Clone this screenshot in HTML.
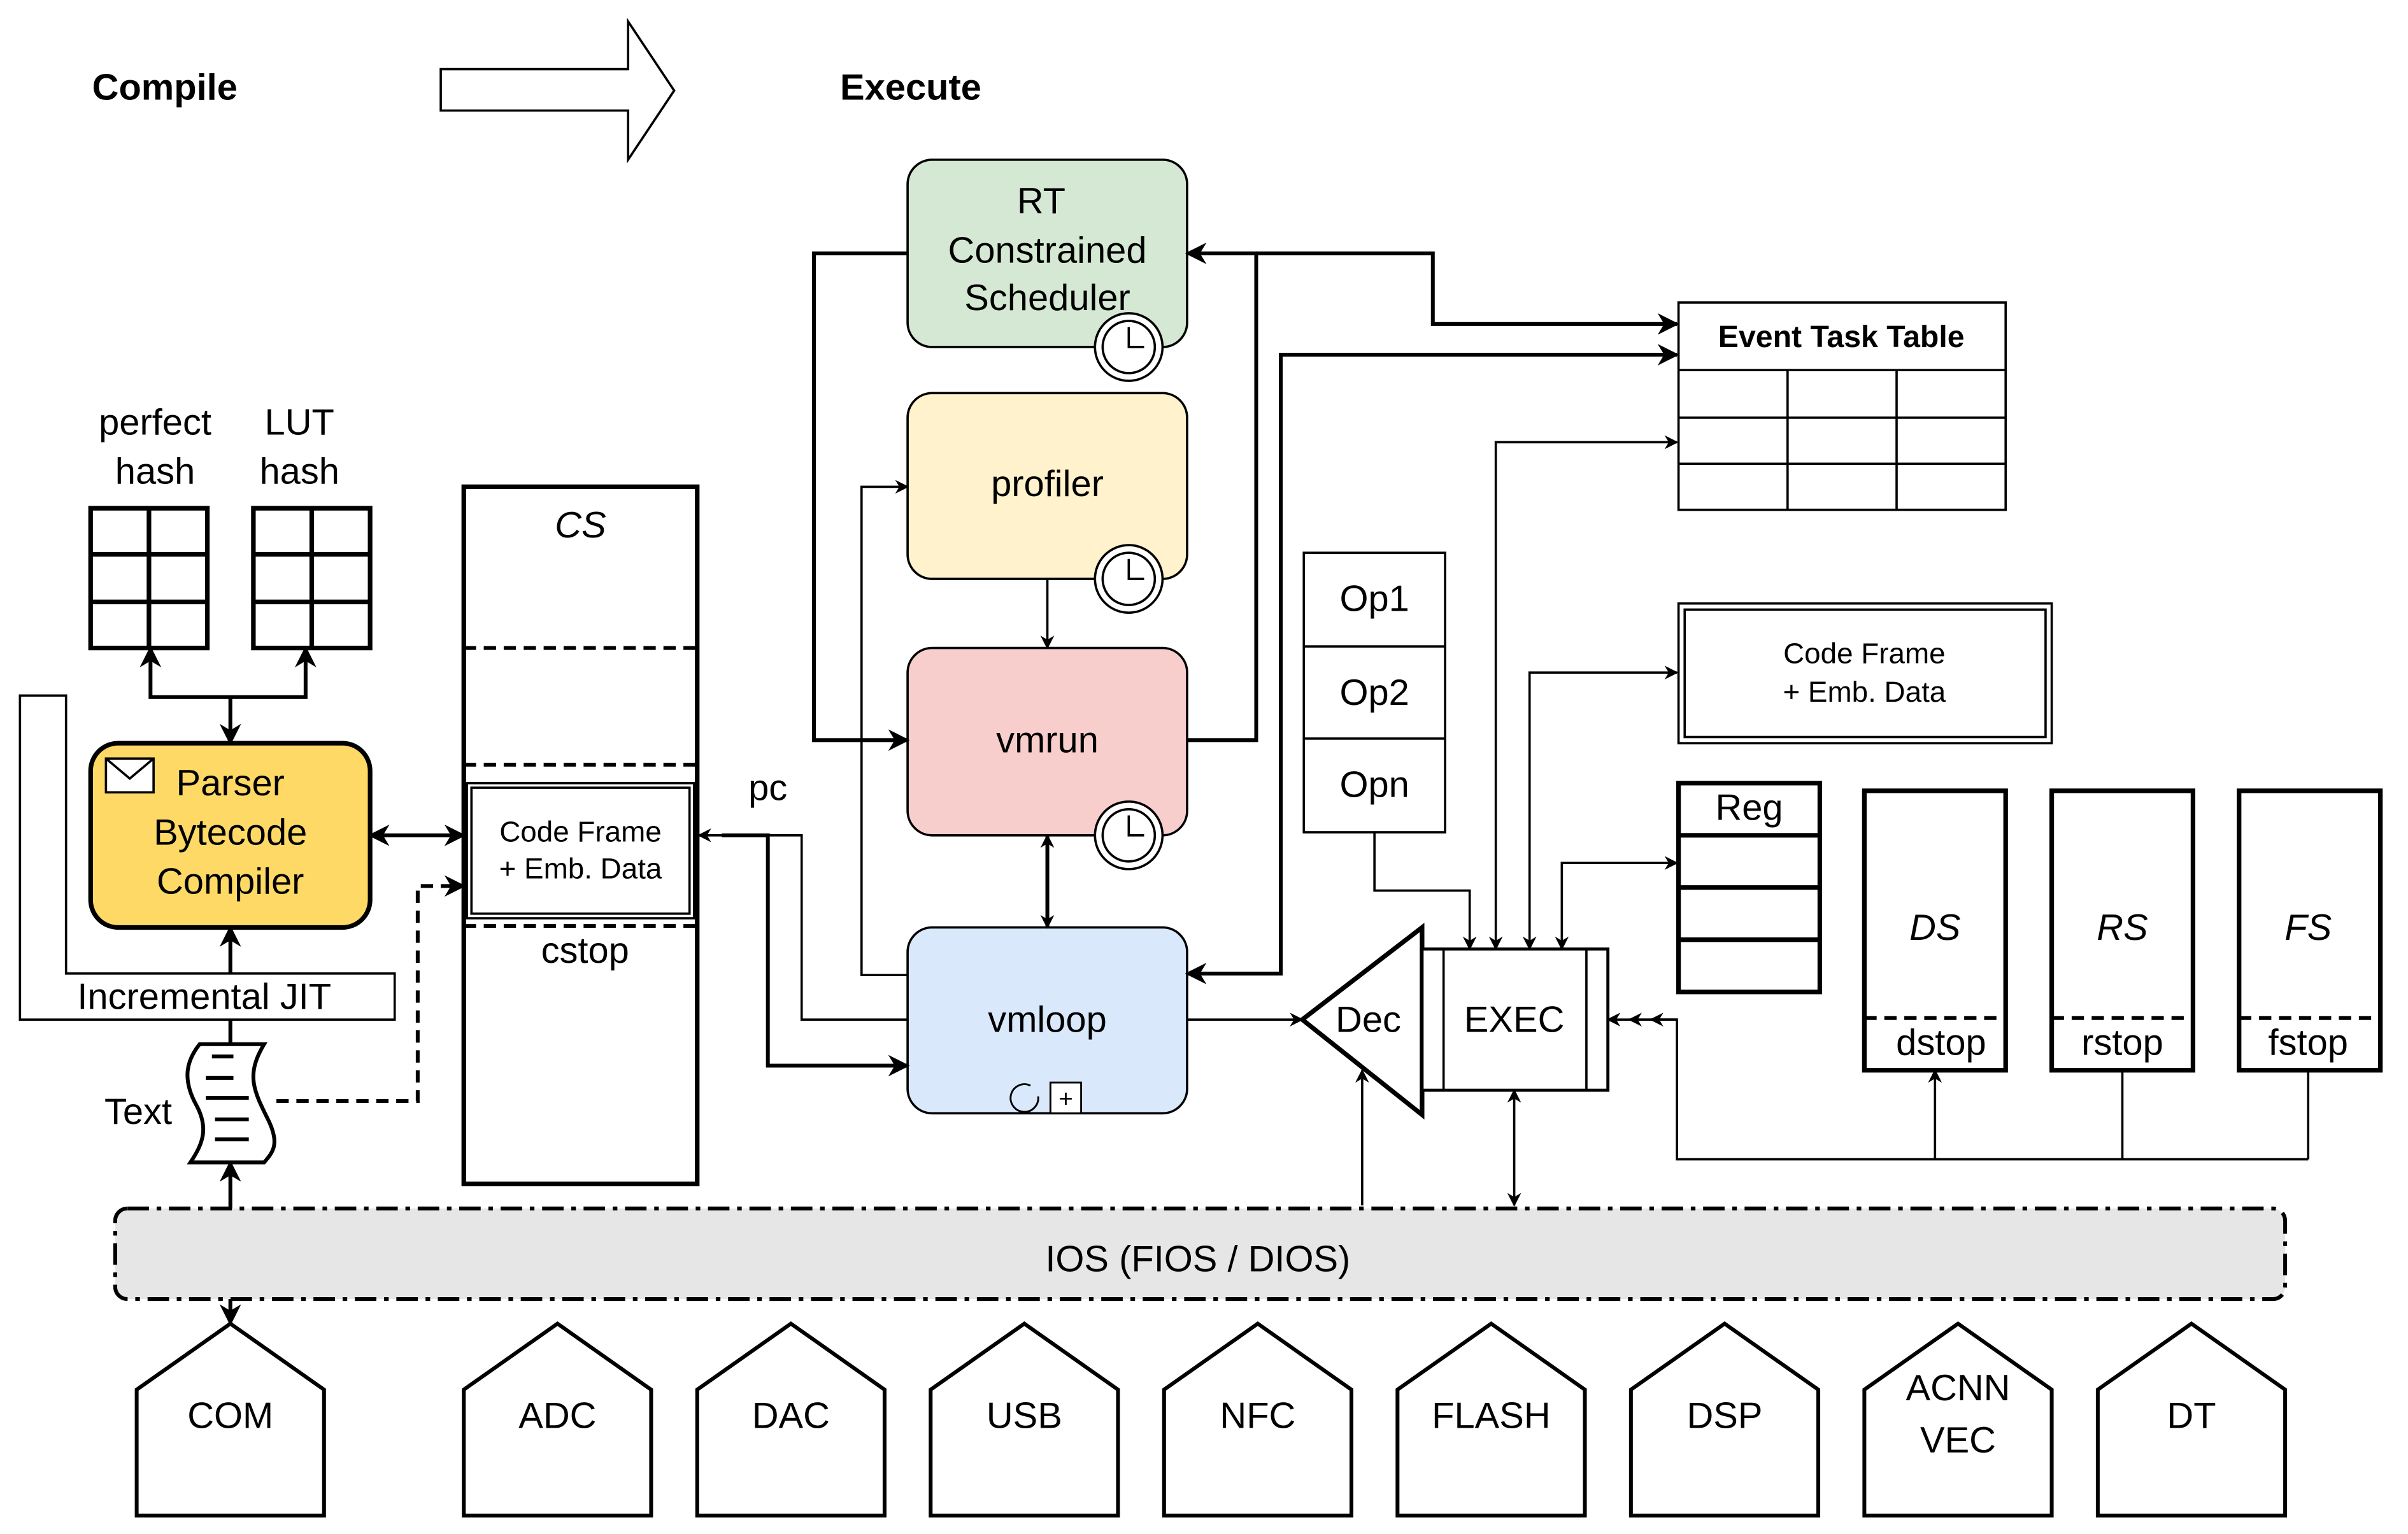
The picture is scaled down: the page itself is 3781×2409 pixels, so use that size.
<!DOCTYPE html>
<html><head><meta charset="utf-8"><style>html,body{margin:0;padding:0;background:#fff}svg{display:block}text{font-family:"Liberation Sans",sans-serif}</style></head><body>
<svg width="3781" height="2409" viewBox="0 0 1568 999" preserveAspectRatio="none" xmlns="http://www.w3.org/2000/svg">
<defs>
<marker id="a" viewBox="0 0 10 10" refX="9" refY="5" markerWidth="9" markerHeight="9" orient="auto-start-reverse" markerUnits="userSpaceOnUse"><path d="M0,0 L10,5 L0,10 L3,5 Z" fill="#000"/></marker>
<marker id="b" viewBox="0 0 10 10" refX="9" refY="5" markerWidth="14" markerHeight="14" orient="auto-start-reverse" markerUnits="userSpaceOnUse"><path d="M0,0 L10,5 L0,10 L3,5 Z" fill="#000"/></marker>
<g id="clk"><circle r="22" fill="#fff" stroke="#000" stroke-width="1.5"/><circle r="17" fill="#fff" stroke="#000" stroke-width="1.5"/><path d="M0,-13 V0 H10" fill="none" stroke="#000" stroke-width="1.5"/></g>
</defs>
<g fill="#000" font-size="24">
<text x="60" y="65" font-weight="bold">Compile</text>
<text x="547" y="65" font-weight="bold">Execute</text>
</g>
<path d="M287,45 H409 V14 L439,59 L409,104 V72 H287 Z" fill="#fff" stroke="#000" stroke-width="1.5"/>

<rect x="591" y="104" width="182" height="122" rx="16" fill="#d5e8d4" stroke="#000" stroke-width="1.5"/>
<rect x="591" y="256" width="182" height="121" rx="16" fill="#fff2cc" stroke="#000" stroke-width="1.5"/>
<rect x="591" y="422" width="182" height="122" rx="16" fill="#f8cecc" stroke="#000" stroke-width="1.5"/>
<rect x="591" y="604" width="182" height="121" rx="16" fill="#dae8fc" stroke="#000" stroke-width="1.5"/>
<g font-size="24" text-anchor="middle" fill="#000">
<text x="678" y="139">RT</text><text x="682" y="171">Constrained</text><text x="682" y="202">Scheduler</text>
<text x="682" y="323">profiler</text><text x="682" y="490">vmrun</text><text x="682" y="672">vmloop</text>
</g>
<use href="#clk" x="735" y="226"/><use href="#clk" x="735" y="377"/><use href="#clk" x="735" y="544"/>
<path d="M676,714 a9,9 0 1 1 -5,-7" fill="none" stroke="#000" stroke-width="1.2"/>
<rect x="684" y="705" width="20" height="20" fill="#fff" stroke="#000" stroke-width="1.2"/>
<text x="694" y="721" font-size="16" text-anchor="middle">+</text>

<g fill="none" stroke="#000">
<path d="M682,377 V422" stroke-width="1.5" marker-end="url(#a)"/>
<path d="M682,544 V604" stroke-width="2.5" marker-start="url(#a)" marker-end="url(#a)"/>
<path d="M591,165 H530 V482 H591" stroke-width="2.5" marker-end="url(#b)"/>
<path d="M591,635 H561 V317 H591" stroke-width="1.5" marker-end="url(#a)"/>
<path d="M773,482 H818 V165 H773" stroke-width="2.5" marker-end="url(#b)"/>
<path d="M818,165 H933 V211 H1092" stroke-width="2.5" marker-end="url(#b)"/>
<path d="M773,634 H834 V231 H1092" stroke-width="2.5" marker-start="url(#b)" marker-end="url(#b)"/>
<path d="M773,664 H848" stroke-width="1.5" marker-end="url(#a)"/>
<path d="M591,664 H522 V544 H455" stroke-width="1.5" marker-end="url(#a)"/>
<path d="M470,544 H500 V694 H591" stroke-width="2.5" marker-end="url(#b)"/>
<path d="M895,542 V580 H957 V618" stroke-width="1.5" marker-end="url(#a)"/>
<path d="M1092,288 H974 V618" stroke-width="1.5" marker-start="url(#a)" marker-end="url(#a)"/>
<path d="M1092,438 H996 V618" stroke-width="1.5" marker-start="url(#a)" marker-end="url(#a)"/>
<path d="M1092,562 H1017 V618" stroke-width="1.5" marker-start="url(#a)" marker-end="url(#a)"/>
<path d="M887,785 V697" stroke-width="1.5" marker-end="url(#a)"/>
<path d="M986,785 V710" stroke-width="1.5" marker-start="url(#a)" marker-end="url(#a)"/>
<path d="M1260,697 V755 M1382,697 V755 M1503,697 V755" stroke-width="1.5" marker-start="url(#a)"/>
<path d="M1503,755 H1092 V664 H1047" stroke-width="1.5" marker-end="url(#a)"/>
<path d="M1092,664 H1061" stroke-width="1.5" marker-end="url(#a)"/>
<path d="M1092,664 H1075" stroke-width="1.5" marker-end="url(#a)"/>
</g>
<text x="500" y="521" font-size="24" text-anchor="middle">pc</text>

<g fill="none" stroke="#000" stroke-width="1.5">
<rect x="1093" y="197" width="213" height="135" fill="#fff"/>
<path d="M1093,241 H1306 M1093,272 H1306 M1093,302 H1306 M1164,241 V332 M1235,241 V332"/>
</g>
<text x="1199" y="226" font-size="20" font-weight="bold" text-anchor="middle">Event Task Table</text>

<g fill="#fff" stroke="#000" stroke-width="1.5">
<rect x="849" y="360" width="92" height="61"/><rect x="849" y="421" width="92" height="60"/><rect x="849" y="481" width="92" height="61"/>
</g>
<g font-size="24" text-anchor="middle"><text x="895" y="398">Op1</text><text x="895" y="459">Op2</text><text x="895" y="519">Opn</text></g>

<rect x="1093" y="393" width="243" height="91" fill="#fff" stroke="#000" stroke-width="1.5"/>
<rect x="1097" y="397" width="235" height="83" fill="none" stroke="#000" stroke-width="1.5"/>
<g font-size="19" text-anchor="middle"><text x="1214" y="432">Code Frame</text><text x="1214" y="457">+ Emb. Data</text></g>

<path d="M848,664 L926,604 V726 Z" fill="#fff" stroke="#000" stroke-width="3"/>
<rect x="926" y="618" width="121" height="92" fill="#fff" stroke="#000" stroke-width="2"/>
<path d="M940,618 V710 M1033,618 V710" stroke="#000" stroke-width="1.5"/>
<text x="891" y="672" font-size="24" text-anchor="middle">Dec</text>
<text x="986" y="672" font-size="24" text-anchor="middle">EXEC</text>

<rect x="1093" y="510" width="92" height="136" fill="#fff" stroke="#000" stroke-width="3"/>
<path d="M1093,544 H1185 M1093,578 H1185 M1093,612 H1185" stroke="#000" stroke-width="3"/>
<text x="1139" y="534" font-size="24" text-anchor="middle">Reg</text>

<g fill="#fff" stroke="#000" stroke-width="3">
<rect x="1214" y="515" width="92" height="182"/><rect x="1336" y="515" width="92" height="182"/><rect x="1458" y="515" width="92" height="182"/>
</g>
<path d="M1214,663 H1306 M1336,663 H1428 M1458,663 H1550" stroke="#000" stroke-width="2.5" stroke-dasharray="8,5"/>
<g font-size="24" text-anchor="middle">
<text x="1260" y="612" font-style="italic">DS</text><text x="1382" y="612" font-style="italic">RS</text><text x="1503" y="612" font-style="italic">FS</text>
<text x="1264" y="687">dstop</text><text x="1382" y="687">rstop</text><text x="1503" y="687">fstop</text>
</g>

<rect x="302" y="317" width="152" height="454" fill="#fff" stroke="#000" stroke-width="3"/>
<path d="M302,422 H454 M302,498 H454 M302,603 H454" stroke="#000" stroke-width="2.5" stroke-dasharray="8,5"/>
<rect x="304" y="510" width="148" height="88" fill="#fff" stroke="#000" stroke-width="1.5"/>
<rect x="307" y="513" width="142" height="82" fill="none" stroke="#000" stroke-width="1.5"/>
<g font-size="19" text-anchor="middle"><text x="378" y="548">Code Frame</text><text x="378" y="572">+ Emb. Data</text></g>
<text x="378" y="350" font-size="24" font-style="italic" text-anchor="middle">CS</text>
<text x="381" y="627" font-size="24" text-anchor="middle">cstop</text>

<g fill="none" stroke="#000" stroke-width="3">
<rect x="59" y="331" width="76" height="91"/><path d="M59,361 H135 M59,392 H135 M97,331 V422"/>
<rect x="165" y="331" width="76" height="91"/><path d="M165,361 H241 M165,392 H241 M203,331 V422"/>
</g>
<g font-size="24" text-anchor="middle"><text x="101" y="283">perfect</text><text x="101" y="315">hash</text><text x="195" y="283">LUT</text><text x="195" y="315">hash</text></g>

<path d="M13,453 H43 V634 H257 V664 H13 Z" fill="#fff" stroke="#000" stroke-width="1.5"/>
<text x="133" y="657" font-size="24" text-anchor="middle">Incremental JIT</text>

<rect x="59" y="484" width="182" height="120" rx="18" fill="#ffd966" stroke="#000" stroke-width="3"/>
<rect x="69" y="494" width="31" height="22" fill="#fff" stroke="#000" stroke-width="1.5"/>
<path d="M69,494 L84.5,507 L100,494" fill="none" stroke="#000" stroke-width="1.5"/>
<g font-size="24" text-anchor="middle"><text x="150" y="518">Parser</text><text x="150" y="550">Bytecode</text><text x="150" y="582">Compiler</text></g>

<g fill="none" stroke="#000" stroke-width="2.5">
<path d="M150,454 V484" marker-end="url(#b)"/>
<path d="M98,422 V454 H199 V422" marker-start="url(#b)" marker-end="url(#b)"/>
<path d="M241,544 H302" marker-start="url(#b)" marker-end="url(#b)"/>
<path d="M150,634 V604" marker-end="url(#b)"/>
<path d="M150,664 V680"/>
<path d="M180,717 H272 V577 H302" stroke-dasharray="8,5" marker-end="url(#b)"/>
<path d="M150,862 V757" marker-start="url(#b)" marker-end="url(#b)"/>
</g>

<path d="M130,680 H172 C160,700 165,710 175,730 C182,745 178,750 172,757 H124 C132,745 136,735 128,720 C118,702 122,690 130,680 Z" fill="#fff" stroke="#000" stroke-width="2.5"/>
<path d="M138,688 H152 M134,702 H152 M134,715 H162 M140,729 H162 M140,742 H162" stroke="#000" stroke-width="2.5"/>
<text x="90" y="732" font-size="24" text-anchor="middle">Text</text>

<rect x="75" y="787" width="1413" height="59" rx="8" fill="#e6e6e6" stroke="#000" stroke-width="2.5" stroke-dasharray="14,5,3,5"/>
<text x="780" y="828" font-size="24" text-anchor="middle">IOS (FIOS / DIOS)</text>

<g fill="#fff" stroke="#000" stroke-width="2.5">
<path d="M89,987 V905 L150,862 L211,905 V987 Z"/>
<path d="M302,987 V905 L363,862 L424,905 V987 Z"/>
<path d="M454,987 V905 L515,862 L576,905 V987 Z"/>
<path d="M606,987 V905 L667,862 L728,905 V987 Z"/>
<path d="M758,987 V905 L819,862 L880,905 V987 Z"/>
<path d="M910,987 V905 L971,862 L1032,905 V987 Z"/>
<path d="M1062,987 V905 L1123,862 L1184,905 V987 Z"/>
<path d="M1214,987 V905 L1275,862 L1336,905 V987 Z"/>
<path d="M1366,987 V905 L1427,862 L1488,905 V987 Z"/>
</g>
<g font-size="24" text-anchor="middle">
<text x="150" y="930">COM</text><text x="363" y="930">ADC</text><text x="515" y="930">DAC</text><text x="667" y="930">USB</text><text x="819" y="930">NFC</text><text x="971" y="930">FLASH</text><text x="1123" y="930">DSP</text><text x="1275" y="912">ACNN</text><text x="1275" y="946">VEC</text><text x="1427" y="930">DT</text>
</g>
</svg>
</body></html>
